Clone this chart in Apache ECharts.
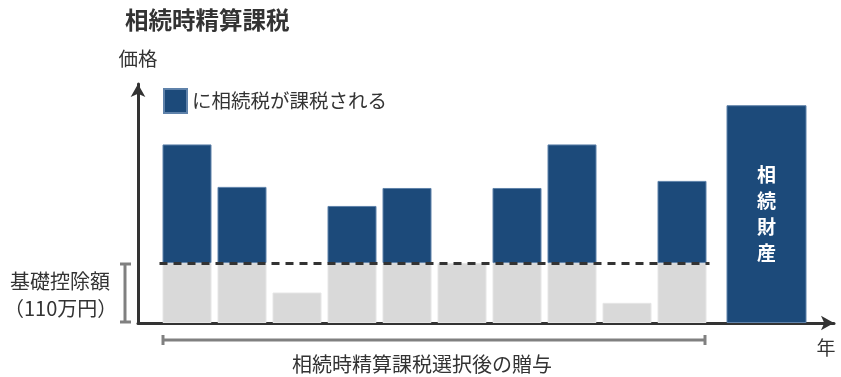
<!DOCTYPE html>
<html>
<head>
<meta charset="utf-8">
<script src="https://cdn.jsdelivr.net/npm/echarts@6/dist/echarts.min.js"></script>
<style>
  html, body { margin: 0; padding: 0; background: #fff; }
  #chart { width: 841px; height: 377px; }
</style>
</head>
<body>
<div id="chart"></div>
<script>
// 贈与の年（10回分）
const giftYears = ['1', '2', '3', '4', '5', '6', '7', '8', '9', '10']
// 基礎控除内の部分（万円）
const baseValues = [110, 110, 56, 110, 110, 110, 110, 110, 37, 110]
// 基礎控除を超えて課税される部分（万円）
const taxedValues = [218, 140, null, 105, 138, null, 138, 218, null, 151]
// 相続財産
const estateCategory = ['相続']
const estateValues = [400]
const deduction = 110

const navy = '#1c4a7a'
const gray = '#d9d9d9'
const font = 'Noto Sans CJK JP'
const yMax = 450

const chart = echarts.init(document.getElementById('chart'))

chart.setOption({
  animation: false,
  textStyle: { fontFamily: font },
  title: {
    text: '相続時精算課税',
    left: 120,
    top: 3,
    textStyle: { fontSize: 23.5, fontWeight: 'bold', color: '#333', fontFamily: font }
  },
  legend: {
    data: ['に相続税が課税される'],
    left: 158,
    top: 83,
    icon: 'rect',
    itemWidth: 23,
    itemHeight: 24,
    itemGap: 6,
    textStyle: { fontSize: 19.5, color: '#333', fontFamily: font }
  },
  grid: [
    { left: 159.5, width: 550, top: 78, bottom: 54 },
    { left: 717, width: 99, top: 78, bottom: 54 },
    { left: 138, right: 7, top: 84, bottom: 54 }
  ],
  xAxis: [
    { type: 'category', gridIndex: 0, data: giftYears, show: false },
    { type: 'category', gridIndex: 1, data: estateCategory, show: false },
    {
      type: 'value', gridIndex: 2, min: 0, max: 1,
      axisLine: { show: true, symbol: ['none', 'arrow'], symbolSize: [11, 13], lineStyle: { color: '#333', width: 3 } },
      axisTick: { show: false }, axisLabel: { show: false }, splitLine: { show: false }
    }
  ],
  yAxis: [
    { type: 'value', gridIndex: 0, min: 0, max: yMax, show: false },
    { type: 'value', gridIndex: 1, min: 0, max: yMax, show: false },
    {
      type: 'value', gridIndex: 2, min: 0, max: 1,
      name: '価格',
      nameGap: 16,
      nameTextStyle: { fontSize: 19.5, color: '#333', fontFamily: font, align: 'center' },
      axisLine: { show: true, symbol: ['none', 'arrow'], symbolSize: [11, 13], lineStyle: { color: '#333', width: 3 } },
      axisTick: { show: false }, axisLabel: { show: false }, splitLine: { show: false }
    }
  ],
  series: [
    {
      name: '基礎控除',
      type: 'bar',
      xAxisIndex: 0,
      yAxisIndex: 0,
      stack: 'gift',
      barWidth: 49,
      data: baseValues,
      itemStyle: { color: gray, borderColor: '#e6e6e6', borderWidth: 1 },
      markLine: {
        silent: true,
        symbol: 'none',
        label: { show: false },
        lineStyle: { color: '#333', width: 3, type: [8, 6] },
        data: [{ yAxis: deduction }]
      }
    },
    {
      name: 'に相続税が課税される',
      type: 'bar',
      xAxisIndex: 0,
      yAxisIndex: 0,
      stack: 'gift',
      barWidth: 49,
      data: taxedValues,
      itemStyle: { color: navy, borderColor: '#5f82aa', borderWidth: 1 }
    },
    {
      name: '相続財産',
      type: 'bar',
      xAxisIndex: 1,
      yAxisIndex: 1,
      barWidth: 80,
      data: estateValues,
      itemStyle: { color: navy, borderColor: '#5f82aa', borderWidth: 1 },
      label: {
        show: true,
        position: 'inside',
        formatter: '相\n続\n財\n産',
        color: '#fff',
        fontSize: 19,
        fontWeight: 'bold',
        lineHeight: 26,
        fontFamily: font
      }
    }
  ],
  graphic: [
    // 基礎控除額の括弧
    { type: 'line', shape: { x1: 125, y1: 263, x2: 125, y2: 323 }, style: { stroke: '#808080', lineWidth: 3 } },
    { type: 'line', shape: { x1: 120, y1: 264, x2: 131, y2: 264 }, style: { stroke: '#808080', lineWidth: 3 } },
    { type: 'line', shape: { x1: 120, y1: 322, x2: 131, y2: 322 }, style: { stroke: '#808080', lineWidth: 3 } },
    { type: 'text', left: 10, top: 271, style: { text: '基礎控除額', font: '20px "Noto Sans CJK JP"', fill: '#333' } },
    { type: 'text', left: 4, top: 298, style: { text: '（110万円）', font: '20px "Noto Sans CJK JP"', fill: '#333' } },
    // 贈与期間の括弧
    { type: 'line', shape: { x1: 162, y1: 340, x2: 706, y2: 340 }, style: { stroke: '#808080', lineWidth: 3 } },
    { type: 'line', shape: { x1: 163, y1: 335, x2: 163, y2: 345 }, style: { stroke: '#808080', lineWidth: 3 } },
    { type: 'line', shape: { x1: 705, y1: 335, x2: 705, y2: 345 }, style: { stroke: '#808080', lineWidth: 3 } },
    { type: 'text', x: 422, y: 364, style: { text: '相続時精算課税選択後の贈与', font: '20px "Noto Sans CJK JP"', fill: '#333', align: 'center', verticalAlign: 'middle' } },
    { type: 'text', x: 826, y: 348, style: { text: '年', font: '19px "Noto Sans CJK JP"', fill: '#333', align: 'center', verticalAlign: 'middle' } }
  ]
})
</script>
</body>
</html>
